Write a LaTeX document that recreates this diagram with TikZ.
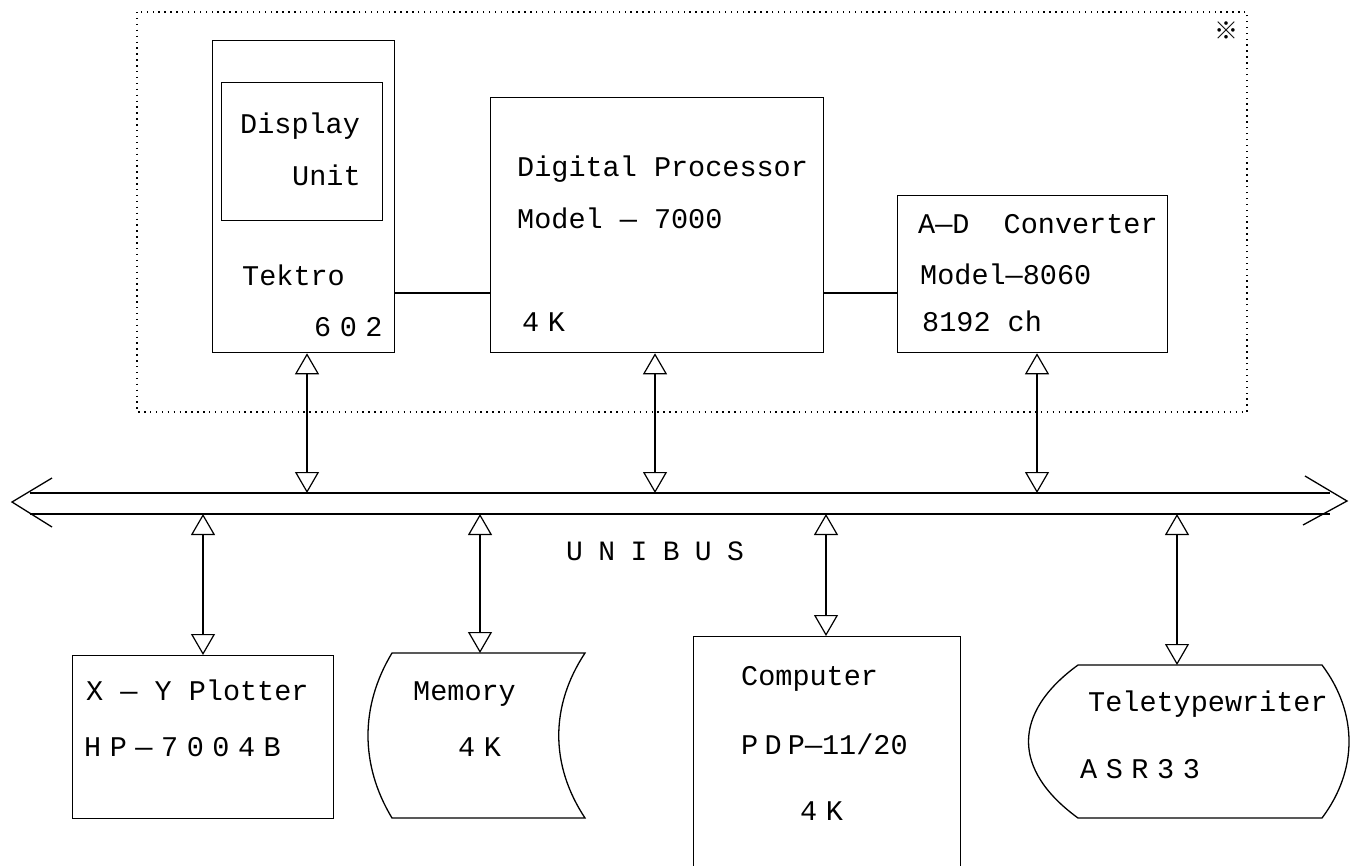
\documentclass[tikz,border=0pt]{standalone}
\usepackage{fontspec}
\setmonofont{Liberation Mono}
\newfontfamily\cjk{Noto Sans CJK JP}
\usetikzlibrary{arrows.meta}
\begin{document}
\begin{tikzpicture}[x=1pt,y=-1pt,
  box/.style={draw, line width=1.3pt, inner sep=0pt, anchor=north west},
  lbl/.style={font=\ttfamily\fontsize{28.5}{30}\selectfont, inner sep=0pt, anchor=base west},
  wide/.style={font=\ttfamily\fontsize{28.5}{30}\selectfont\addfontfeature{LetterSpace=30}, inner sep=0pt, anchor=base west},
  ln/.style={line width=1.3pt},
  link/.style={line width=1.2pt, {Triangle[open,length=21pt,width=24pt,line width=1.2pt]}-{Triangle[open,length=21pt,width=24pt,line width=1.2pt]}},
  frame/.style={line width=1.2pt, dash pattern=on 1.4pt off 4.5pt}]
\useasboundingbox (0,0) rectangle (1354,865);

% dotted frame
\draw[frame] (137,12) rectangle (1247,412);
\node[inner sep=0pt, font=\cjk\fontsize{24}{26}\selectfont] (mark) at (1226,31) {※};

% upper boxes
\node[box, minimum width=182pt, minimum height=312pt] (tek) at (212,40) {};
\node[box, minimum width=161pt, minimum height=138pt] (disp) at (221,82) {};
\node[lbl] (t1) at (240,133) {Display};
\node[lbl] (t2) at (292,185) {Unit};
\node[lbl] (t3) at (242,285) {Tektro};
\node[wide] (t4) at (314,336) {602};

\node[box, minimum width=333pt, minimum height=255pt] (dp) at (490,97) {};
\node[lbl] (d1) at (517,176) {Digital Processor};
\node[lbl] (d2) at (517,228) {Model — 7000};
\node[wide] (d3) at (522,331) {4K};

\node[box, minimum width=270pt, minimum height=157pt] (ad) at (897,195) {};
\node[lbl] (a1) at (918,233) {A—D\ \ Converter};
\node[lbl] (a2) at (920,284) {Model—8060};
\node[lbl] (a3) at (922,331) {8192 ch};

\draw[ln] (tek.east |- 0,293) -- (dp.west |- 0,293);
\draw[ln] (dp.east |- 0,293) -- (ad.west |- 0,293);

% unibus
\draw[ln] (30,493) -- (1330,493);
\draw[ln] (30,514) -- (1330,514);
\draw[ln] (52,478) -- (12,502) -- (52,527);
\draw[ln] (1305,476) -- (1347,501) -- (1303,525);
\node[font=\ttfamily\fontsize{28}{30}\selectfont\addfontfeature{LetterSpace=55}, inner sep=0pt, anchor=base west] (bus) at (566,560) {UNIBUS};

% bus taps above
\coordinate (b1) at (307,493);
\coordinate (b2) at (655,493);
\coordinate (b3) at (1037,493);
\draw[link] (tek.south -| b1) -- (b1);
\draw[link] (dp.south -| b2) -- (b2);
\draw[link] (ad.south -| b3) -- (b3);

% lower boxes
\node[box, minimum width=261pt, minimum height=163pt] (xy) at (72,655) {};
\node[lbl] (x1) at (86,700) {X — Y Plotter};
\node[wide] (x2) at (84,756) {HP—7004B};

\coordinate (mem) at (480,653);
\draw[ln] (392,653) -- (585,653)
  .. controls (550,706) and (550,765) .. (585,818)
  -- (392,818)
  .. controls (360,765) and (360,706) .. (392,653) -- cycle;
\node[lbl] (m1) at (413,700) {Memory};
\node[wide] (m2) at (458,756) {4K};

\node[box, minimum width=267pt, minimum height=240pt] (cp) at (693,636) {};
\node[lbl] (c1) at (741,685) {Computer};
\node[lbl] (c2) at (741,754) {{\addfontfeature{LetterSpace=22}PDP}—11/20};
\node[wide] (c3) at (800,820) {4K};

\coordinate (tty) at (1177,665);
\draw[ln] (1078,665) -- (1322,665)
  .. controls (1358,713) and (1358,770) .. (1322,818)
  -- (1078,818)
  .. controls (1012,770) and (1012,713) .. (1078,665) -- cycle;
\node[lbl] (y1) at (1088,711) {Teletypewriter};
\node[wide] (y2) at (1080,778) {ASR33};

% bus taps below
\coordinate (c1b) at (203,514);
\coordinate (c2b) at (480,514);
\coordinate (c3b) at (826,514);
\coordinate (c4b) at (1177,514);
\draw[link] (c1b) -- (xy.north -| c1b);
\draw[link] (c2b) -- (mem);
\draw[link] (c3b) -- (cp.north -| c3b);
\draw[link] (c4b) -- (tty);
\end{tikzpicture}
\end{document}
